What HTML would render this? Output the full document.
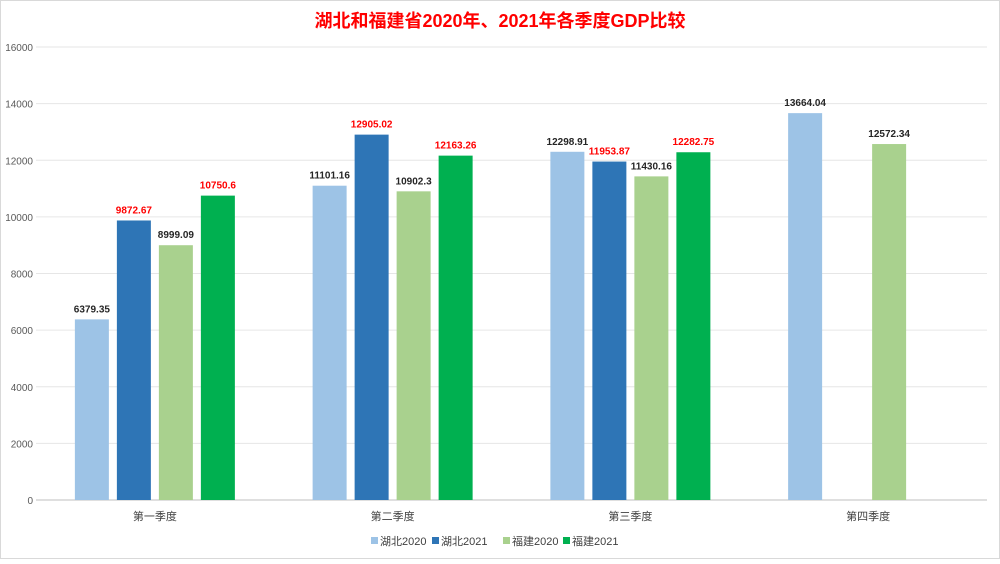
<!DOCTYPE html>
<html><head><meta charset="utf-8"><style>
body{margin:0;background:#fff}
svg text{font-family:"Liberation Sans","Noto Sans CJK SC",sans-serif}
</style></head><body>
<svg id="c" width="1000" height="559" xmlns="http://www.w3.org/2000/svg">
<rect x="0.5" y="0.5" width="999" height="558" fill="#fff" stroke="#d9d9d9"/>
<text x="500" y="27" text-anchor="middle" font-size="18" font-weight="bold" fill="#ff0000">湖北和福建省2020年、2021年各季度GDP比较</text>
<g id="grid"></g><g id="bars"></g><g id="legend"></g>
</svg>
<script>
const categories=["第一季度","第二季度","第三季度","第四季度"];
const seriesNames=["湖北2020","湖北2021","福建2020","福建2021"];
const hubei2020=[6379.35,11101.16,12298.91,13664.04];
const hubei2021=[9872.67,12905.02,11953.87,null];
const fujian2020=[8999.09,10902.3,11430.16,12572.34];
const fujian2021=[10750.6,12163.26,12282.75,null];
const yTicks=[0,2000,4000,6000,8000,10000,12000,14000,16000];
const series=[hubei2020,hubei2021,fujian2020,fujian2021];
const colors=["#9dc3e6","#2e75b6","#a9d18e","#00b050"];
const labelColors=["#262626","#ff0000","#262626","#ff0000"];
const NS="http://www.w3.org/2000/svg";
const x0=36,x1=987,y0=500,yTop=47,yMax=16000;
const y=v=>y0-(v/yMax)*(y0-yTop);
const gw=(x1-x0)/categories.length;
const cx=i=>x0+gw*(i+0.5);
function mk(t,a,p){const e=document.createElementNS(NS,t);for(const k in a)e.setAttribute(k,a[k]);p.appendChild(e);return e;}
const grid=document.getElementById('grid');
yTicks.forEach(t=>{
  const l=mk('line',{x1:x0,x2:x1,y1:y(t),y2:y(t),stroke:t===0?'#bfbfbf':'#e6e6e6','stroke-width':1},grid);
  
  
  const tx=mk('text',{x:x0-3,y:y(t)+4,'text-anchor':'end','font-size':10,fill:'#595959'},grid);
  tx.textContent=t;
  
  
});
categories.forEach((c,i)=>{
  const tx=mk('text',{x:cx(i),y:520,'text-anchor':'middle','font-size':11,fill:'#404040'},grid);
  tx.textContent=c;
  
  
});
const bars=document.getElementById('bars');
const bw=34,step=42;
series.forEach((s,j)=>{
  s.forEach((v,i)=>{
    if(v==null)return;
    const bx=cx(i)+(j-1.5)*step-bw/2;
    const r=mk('rect',{x:bx,y:y(v),width:bw,height:y0-y(v),fill:colors[j]},bars);
    
    
    const tx=mk('text',{x:bx+bw/2,y:y(v)-7,'text-anchor':'middle','font-size':10,'font-weight':'bold',fill:labelColors[j]},bars);
    tx.textContent=v;
    
    
  });
});
const lg=document.getElementById('legend');
const lx=[379,440,511,571];
seriesNames.forEach((n,j)=>{
  const g=mk('g',{},lg);
  
  
  mk('rect',{x:lx[j]-8,y:537,width:7,height:7,fill:colors[j]},g);
  const tx=mk('text',{x:lx[j]+1,y:545,'font-size':11,fill:'#404040'},g);
  tx.textContent=n;
});
</script>
</body></html>
